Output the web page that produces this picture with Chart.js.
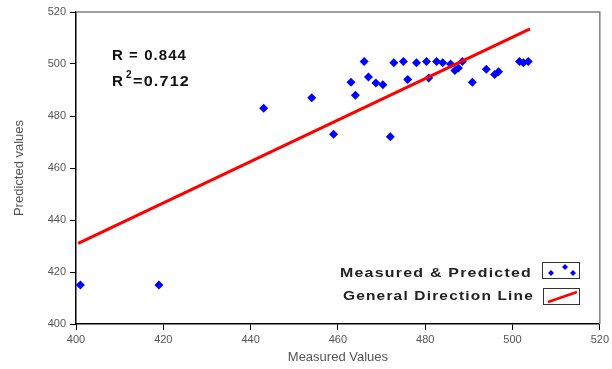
<!DOCTYPE html>
<html>
<head>
<meta charset="utf-8">
<script src="https://cdn.jsdelivr.net/npm/chart.js@4"></script>
<style>
  html, body { margin: 0; padding: 0; background: #fff; }
  #wrap { width: 612px; height: 369px; }
</style>
</head>
<body>
<div id="wrap"><canvas id="chart" width="612" height="369"></canvas></div>
<script>
// measured vs predicted pairs
const measured = [401, 419, 443, 454, 459, 463, 464, 466, 467, 468.7, 470.3, 472, 472.8, 475, 476,
  478, 480.3, 480.8, 482.6, 484, 485.8, 486.8, 487.6, 488.5, 490.8, 494, 495.9, 496.8, 501.6, 502.5, 503.6];
const predicted = [415, 415, 483, 487, 473, 493, 488, 501, 495, 492.7, 492, 472, 500.5, 501, 494,
  500.5, 501, 494.6, 501, 500.5, 500, 497.5, 498.5, 501, 493, 498, 496, 497, 501, 500.5, 501];
const lineX = [400.5, 504];
const lineY = [431, 513.5];
const rText = "R = 0.844";
const r2Value = "=0.712";
const legendLabels = ["Measured & Predicted", "General Direction Line"];

const points = measured.map((x, i) => ({ x: x, y: predicted[i] }));
const trend = lineX.map((x, i) => ({ x: x, y: lineY[i] }));

// draw text stretched horizontally so it spans the given width
function wideText(ctx, text, xLeft, xRight, y) {
  ctx.letterSpacing = "1px";
  const w = ctx.measureText(text).width;
  const sx = (xRight - xLeft) / w;
  ctx.save();
  ctx.translate(xLeft, y);
  ctx.scale(sx, 1);
  ctx.textAlign = "left";
  ctx.fillText(text, 0, 0);
  ctx.restore();
  ctx.letterSpacing = "0px";
}

const extras = {
  id: "extras",
  afterDraw(chart) {
    const ctx = chart.ctx;
    const a = chart.chartArea;
    ctx.save();
    // top and right frame
    ctx.strokeStyle = "#808080";
    ctx.lineWidth = 1.5;
    ctx.beginPath();
    ctx.moveTo(a.left, a.top);
    ctx.lineTo(a.right, a.top);
    ctx.lineTo(a.right, a.bottom);
    ctx.stroke();

    // R values
    ctx.fillStyle = "#111";
    ctx.textBaseline = "middle";
    ctx.font = "bold 14px 'Liberation Sans', Arial";
    wideText(ctx, rText, 112, 187, 56);
    ctx.textAlign = "left";
    ctx.font = "bold 14px 'Liberation Sans', Arial";
    wideText(ctx, "R", 112, 124, 82);
    ctx.font = "bold 10px 'Liberation Sans', Arial";
    ctx.fillText("2", 126, 75);
    ctx.font = "bold 14px 'Liberation Sans', Arial";
    wideText(ctx, r2Value, 133, 190, 82);

    // legend
    ctx.font = "bold 13px 'Liberation Sans', Arial";
    ctx.fillStyle = "#222";
    wideText(ctx, legendLabels[0], 340, 532, 273);
    wideText(ctx, legendLabels[1], 343, 534, 296);
    ctx.strokeStyle = "#333";
    ctx.lineWidth = 1;
    ctx.strokeRect(542.5, 262.5, 37, 16);
    ctx.strokeRect(543.5, 288.5, 36, 16);
    ctx.fillStyle = "#0000ff";
    [[551, 273], [565, 267], [573, 273]].forEach(p => {
      ctx.beginPath();
      ctx.moveTo(p[0], p[1] - 3);
      ctx.lineTo(p[0] + 3, p[1]);
      ctx.lineTo(p[0], p[1] + 3);
      ctx.lineTo(p[0] - 3, p[1]);
      ctx.closePath();
      ctx.fill();
    });
    ctx.strokeStyle = "#ff0000";
    ctx.lineWidth = 2.5;
    ctx.beginPath();
    ctx.moveTo(548, 302);
    ctx.lineTo(577, 292);
    ctx.stroke();
    ctx.restore();
  }
};

new Chart(document.getElementById("chart"), {
  type: "scatter",
  data: {
    datasets: [
      {
        label: legendLabels[1],
        type: "line",
        data: trend,
        borderColor: "#ff0000",
        borderWidth: 3,
        pointRadius: 0,
        fill: false
      },
      {
        label: legendLabels[0],
        data: points,
        pointStyle: "rectRot",
        pointRadius: 4.5,
        backgroundColor: "#0000ff",
        borderColor: "#0000ff",
        borderWidth: 0
      }
    ]
  },
  options: {
    responsive: false,
    animation: false,
    layout: { padding: { left: 0, top: 12, right: 10, bottom: 0 } },
    plugins: {
      legend: { display: false },
      tooltip: { enabled: false }
    },
    scales: {
      x: {
        type: "linear",
        min: 400,
        max: 520,
        ticks: { stepSize: 20, color: "#555", padding: 3, font: { family: "'Liberation Sans', Arial", size: 11 } },
        grid: { drawOnChartArea: false, color: "#000", tickLength: 6 },
        border: { color: "#000", width: 1.5 },
        title: { display: true, text: "Measured Values", color: "#555", padding: { top: 2, bottom: 4 },
          font: { family: "'Liberation Sans', Arial", size: 13 } },
        afterFit(scale) { scale.height = 45; }
      },
      y: {
        min: 400,
        max: 520,
        ticks: { stepSize: 20, color: "#555", padding: 4, font: { family: "'Liberation Sans', Arial", size: 11 } },
        grid: { drawOnChartArea: false, color: "#000", tickLength: 6 },
        border: { color: "#000", width: 1.5 },
        title: { display: true, text: "Predicted values", color: "#555", padding: { top: 12, bottom: 0 },
          font: { family: "'Liberation Sans', Arial", size: 13 } },
        afterFit(scale) { scale.width = 76; }
      }
    }
  },
  plugins: [extras]
});
</script>
</body>
</html>
